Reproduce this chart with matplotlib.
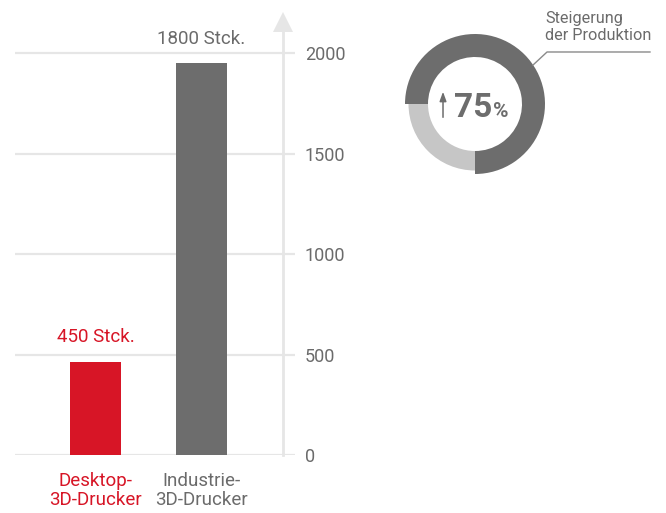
import numpy as np
import matplotlib.pyplot as plt

plt.rcParams['font.family'] = ['Roboto', 'DejaVu Sans']

# daten
kategorien = ["Desktop-\n3D-Drucker", "Industrie-\n3D-Drucker"]
hoehen = [465, 1950]          # so wie die balken gezeichnet sind
beschriftung = ["450 Stck.", "1800 Stck."]
y_ticks = [0, 500, 1000, 1500, 2000]
steigerung = [75, 25]         # anteil dunkel / hell im ring
steigerung_text = "75"

rot = "#d71526"
grau = "#6d6d6d"
hellgrau = "#c6c6c6"
linie = "#e6e6e6"
textgrau = "#6b6b6b"

W, H = 666, 513
fig = plt.figure(figsize=(W / 100, H / 100), dpi=100)

# balkendiagramm, position in pixeln
ax = fig.add_axes([15 / W, (H - 455) / H, 280 / W, 448 / H])
x = np.arange(len(kategorien))
bars = ax.bar(x, hoehen, width=0.48, color=[rot, grau], zorder=3)
ax.set_xlim(-0.759, 1.882)
ax.set_ylim(0, 2230)

for s in ax.spines.values():
    s.set_visible(False)
ax.yaxis.tick_right()
ax.set_yticks(y_ticks)
ax.tick_params(axis='y', length=0, pad=7, labelsize=13, labelcolor=textgrau)
ax.grid(axis='y', color=linie, lw=1.6, zorder=0)

ax.set_xticks(x, kategorien)
ax.tick_params(axis='x', length=0, pad=12, labelsize=13.5)
for lab, c in zip(ax.get_xticklabels(), [rot, textgrau]):
    lab.set_color(c)
    lab.set_linespacing(1.1)

# y-achse mit pfeil
achse_x = 1.769
ax.plot([achse_x, achse_x], [0, 2140], color=linie, lw=2, zorder=1, clip_on=False)
ax.plot([achse_x], [2155], marker='^', ms=15, color=linie, mew=0, clip_on=False)

txts = ax.bar_label(bars, labels=beschriftung, padding=11, fontsize=13.5)
for t, c in zip(txts, [rot, textgrau]):
    t.set_color(c)

# ring, mitte bei (475, 104) px, radius 70 px
ax2 = fig.add_axes([395 / W, (H - 184) / H, 160 / W, 160 / H])
ax2.set_aspect('equal')
ax2.axis('off')
wedges, _ = ax2.pie(steigerung, colors=[grau, hellgrau], startangle=270,
                    counterclock=True, radius=1.0,
                    wedgeprops=dict(width=23 / 70, linewidth=0))
wedges[1].set_radius(66.5 / 70)
wedges[1].set_width(19.5 / 70)
ax2.set_xlim(-80 / 70, 80 / 70)
ax2.set_ylim(-80 / 70, 80 / 70)

ax2.annotate("", xy=(-0.457, 0.175), xytext=(-0.457, -0.19),
             arrowprops=dict(arrowstyle='-|>,head_width=0.2,head_length=0.55',
                             color=grau, lw=1.1, shrinkA=0, shrinkB=0))
ax2.text(-0.3, -0.186, steigerung_text, fontsize=24, fontweight='bold',
         color=grau, ha='left', va='baseline')
ax2.text(0.255, -0.186, "%", fontsize=15, fontweight='bold',
         color=grau, ha='left', va='baseline')

ax2.plot([0.829, 1.029, 2.5], [0.557, 0.743, 0.743], color="#8a8a8a", lw=1,
         clip_on=False)
fig.text(545 / W, (H - 11) / H, "Steigerung\nder Produktion", fontsize=11.7,
         color=textgrau, ha='left', va='top', linespacing=1.2)

fig.savefig("out.png", dpi=100)
